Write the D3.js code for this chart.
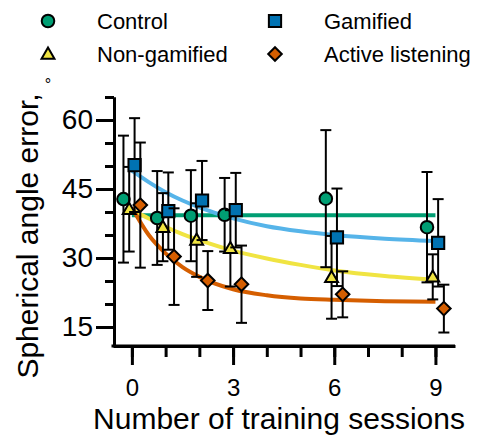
<!DOCTYPE html>
<html><head><meta charset="utf-8">
<script src="https://cdn.jsdelivr.net/npm/d3@7"></script>
<style>body{margin:0;background:#fff}svg{display:block;font-family:"Liberation Sans",Arial,Helvetica,sans-serif}</style>
</head><body><svg id="chart" width="481" height="439"></svg>
<script>
// ---- data ----
const sessions = [0, 1, 2, 3, 6, 9];
const groupNames = ["Control", "Non-gamified", "Gamified", "Active listening"];
const controlMean = [42.8, 38.7, 39.2, 39.4, 42.9, 36.7];
const controlSD   = [13.8, 10.2, 9.9, 8.0, 14.9, 12.0];
const nonGamMean  = [40.6, 36.7, 33.9, 32.1, 25.8, 25.9];
const nonGamSD    = [9.2, 7.4, 8.0, 8.3, 9.0, 4.9];
const gamMean     = [50.2, 40.2, 42.5, 40.4, 34.5, 33.3];
const gamSD       = [10.2, 8.4, 8.6, 8.1, 10.6, 9.5];
const activeMean  = [41.5, 30.3, 25.1, 24.3, 22.1, 19.0];
const activeSD    = [13.6, 10.5, 6.4, 8.4, 5.0, 5.2];
// fitted curves
const fitSessions = [0, 0.5, 1, 1.5, 2, 3, 4, 5, 6, 7.5, 9];
const controlFit  = [39.3, 39.3, 39.3, 39.3, 39.3, 39.3, 39.3, 39.3, 39.3, 39.3, 39.3];
const nonGamFit   = [40.5, 38.6, 36.8, 35.2, 33.9, 31.6, 29.9, 28.5, 27.3, 26.1, 25.3];
const gamFit      = [49.0, 46.5, 44.3, 42.5, 41.0, 38.6, 36.9, 35.8, 35.0, 34.2, 33.7];
const activeFit   = [41.0, 35.0, 31.0, 28.0, 25.9, 23.2, 21.9, 21.2, 20.9, 20.6, 20.5];
const yTickValues = [15, 30, 45, 60];
const xTickValues = [0, 3, 6, 9];
const yMinorValues = [15, 20, 25, 30, 35, 40, 45, 50, 55, 60, 65];
const xMinorValues = [0, 1, 2, 3, 4, 5, 6, 7, 8, 9];

// ---- styles ----
const styles = [
  {mean: controlMean, sd: controlSD, fit: controlFit, fill: "#009E73", line: "#009E73", shape: "circle", dodge: -0.25},
  {mean: nonGamMean, sd: nonGamSD, fit: nonGamFit, fill: "#F0E442", line: "#F0E442", shape: "triangle", dodge: -0.08},
  {mean: gamMean, sd: gamSD, fit: gamFit, fill: "#0072B2", line: "#56B4E9", shape: "square", dodge: 0.08},
  {mean: activeMean, sd: activeSD, fit: activeFit, fill: "#D55E00", line: "#D55E00", shape: "diamond", dodge: 0.25}
];

const svg = d3.select("#chart");
const x = d3.scaleLinear().domain([-0.56, 9.58]).range([113, 455]);
const y = d3.scaleLinear().domain([11, 65]).range([345.4, 97]);

function symbolPath(shape) {
  if (shape === "circle") return d3.symbol(d3.symbolCircle, 124)();
  if (shape === "square") return d3.symbol(d3.symbolSquare, 150)();
  if (shape === "triangle") return d3.symbol(d3.symbolTriangle, 72)();
  return d3.symbol(d3.symbolSquare, 92)();
}
function drawMarker(g, shape, cx, cy, fill) {
  g.append("path")
    .attr("d", symbolPath(shape))
    .attr("transform", `translate(${cx},${cy})` + (shape === "diamond" ? " rotate(45)" : (shape === "triangle" ? " translate(0,1)" : "")))
    .attr("fill", fill).attr("stroke", "#000").attr("stroke-width", 2)
    .attr("stroke-linejoin", "miter");
}

// ---- fitted curves ----
const line = d3.line().x(d => x(d[0])).y(d => y(d[1])).curve(d3.curveMonotoneX);
const curves = svg.append("g");
styles.forEach(s => {
  curves.append("path")
    .attr("d", line(fitSessions.map((t, i) => [t, s.fit[i]])))
    .attr("fill", "none").attr("stroke", s.line).attr("stroke-width", 4);
});

// ---- error bars and markers ----
const marks = svg.append("g");
const cap = 5.5;
styles.forEach(s => {
  const g = marks.append("g");
  sessions.forEach((t, i) => {
    const cx = x(t + s.dodge);
    const hi = y(s.mean[i] + s.sd[i]), lo = y(s.mean[i] - s.sd[i]);
    g.append("line").attr("x1", cx).attr("x2", cx).attr("y1", hi).attr("y2", lo)
      .attr("stroke", "#000").attr("stroke-width", 2);
    [hi, lo].forEach(v => g.append("line").attr("x1", cx - cap).attr("x2", cx + cap)
      .attr("y1", v).attr("y2", v).attr("stroke", "#000").attr("stroke-width", 2));
  });
  sessions.forEach((t, i) => drawMarker(g, s.shape, x(t + s.dodge), y(s.mean[i]), s.fill));
});

// ---- axes ----
const axisX = 114, axisY = 346;
const yAxisMinor = d3.axisLeft(y).tickValues(yMinorValues).tickSize(9).tickSizeOuter(0).tickFormat("");
const yAxis = d3.axisLeft(y).tickValues(yTickValues).tickSize(18).tickSizeOuter(0).tickPadding(3);
const xAxisMinor = d3.axisBottom(x).tickValues(xMinorValues).tickSize(11).tickSizeOuter(0).tickFormat("");
const xAxis = d3.axisBottom(x).tickValues(xTickValues).tickSize(19).tickSizeOuter(0).tickPadding(14);

function styleAxis(g, fs) {
  g.selectAll("path.domain").attr("stroke", "#000").attr("stroke-width", 3);
  g.selectAll(".tick line").attr("stroke", "#000").attr("stroke-width", 3);
  g.selectAll(".tick text").attr("fill", "#000").attr("font-size", fs)
    .attr("font-family", '"Liberation Sans",Arial,sans-serif');
}
const gy1 = svg.append("g").attr("transform", `translate(${axisX},0)`).call(yAxisMinor);
const gy2 = svg.append("g").attr("transform", `translate(${axisX},0)`).call(yAxis);
styleAxis(gy1, 28); styleAxis(gy2, 28);
const gx1 = svg.append("g").attr("transform", `translate(0,${axisY})`).call(xAxisMinor);
const gx2 = svg.append("g").attr("transform", `translate(0,${axisY})`).call(xAxis);
styleAxis(gx1, 24); styleAxis(gx2, 24);
gx2.selectAll("path.domain").attr("d", `M${x.range()[0] - 1.5},0H${x.range()[1]}`);

// ---- axis titles ----
svg.append("text").attr("x", 279).attr("y", 429).attr("text-anchor", "middle")
  .attr("font-size", 30).attr("fill", "#000").text("Number of training sessions");
svg.append("text").attr("transform", "translate(38,236) rotate(-90)").attr("text-anchor", "middle")
  .attr("font-size", 30).attr("fill", "#000").text("Spherical angle error,");
svg.append("text").attr("x", 48).attr("y", 90).attr("text-anchor", "middle")
  .attr("font-size", 16).attr("fill", "#000").text("°");

// ---- legend ----
const legendPos = [[48, 21], [48, 54], [275, 21], [275, 54]];
const legendOrder = [0, 1, 2, 3];
const lg = svg.append("g");
legendOrder.forEach((gi, k) => {
  const [lx, ly] = legendPos[k];
  drawMarker(lg, styles[gi].shape, lx, ly, styles[gi].fill);
  lg.append("text").attr("x", lx + 49).attr("y", ly + 8).attr("font-size", 22).attr("fill", "#000")
    .text(groupNames[gi]);
});
</script></body></html>
